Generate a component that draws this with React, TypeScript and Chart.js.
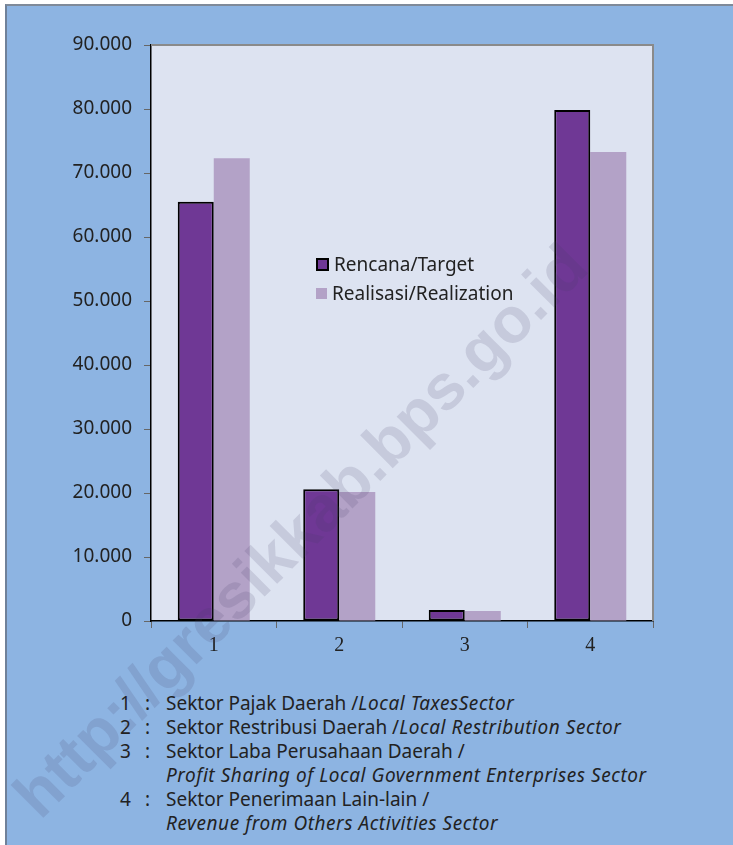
import React, { useEffect, useRef } from "react";
import { Chart, registerables } from "chart.js";

Chart.register(...registerables);

const categories = ["1", "2", "3", "4"];
const rencana = [65500, 20600, 1700, 79850];
const realisasi = [72300, 20150, 1550, 73300];
const seriesNames = ["Rencana/Target", "Realisasi/Realization"];
const seriesColors = ["#6F3895", "#B3A2C7"];
const yMax = 90000;
const yStep = 10000;

const noteNumbers = ["1", "2", "3", "", "4", ""];
const noteMain = [
  "Sektor Pajak Daerah /",
  "Sektor Restribusi Daerah /",
  "Sektor Laba Perusahaan Daerah /",
  "",
  "Sektor Penerimaan Lain-lain /",
  "",
];
const noteItalic = [
  "Local TaxesSector",
  "Local Restribution Sector",
  "",
  "Profit Sharing of Local Government Enterprises Sector",
  "",
  "Revenue from Others Activities Sector",
];

const watermark = "http://gresikkab.bps.go.id";

function fmt(v: number): string {
  if (v === 0) return "0";
  const k = Math.round(v / 1000);
  return `${k}.000`;
}

const plotFrame = {
  id: "plotFrame",
  beforeDraw(chart: any) {
    const { ctx, chartArea: a } = chart;
    ctx.save();
    ctx.fillStyle = "#DDE3F1";
    ctx.fillRect(a.left, a.top, a.right - a.left, a.bottom - a.top);
    ctx.restore();
  },
  afterDraw(chart: any) {
    const { ctx, chartArea: a } = chart;
    ctx.save();
    ctx.strokeStyle = "#8a8a8a";
    ctx.lineWidth = 2;
    ctx.beginPath();
    ctx.moveTo(a.left, a.top);
    ctx.lineTo(a.right, a.top);
    ctx.lineTo(a.right, a.bottom);
    ctx.stroke();
    ctx.restore();
  },
};

export default function App() {
  const ref = useRef<HTMLCanvasElement | null>(null);

  useEffect(() => {
    if (!ref.current) return;
    const chart = new Chart(ref.current, {
      type: "bar",
      data: {
        labels: categories,
        datasets: [
          {
            label: seriesNames[0],
            data: rencana,
            backgroundColor: seriesColors[0],
            borderColor: "#000000",
            borderWidth: 2,
            borderSkipped: false,
          },
          {
            label: seriesNames[1],
            data: realisasi,
            backgroundColor: seriesColors[1],
            borderWidth: 0,
          },
        ],
      },
      options: {
        animation: false,
        responsive: false,
        devicePixelRatio: 1,
        categoryPercentage: 0.574,
        barPercentage: 1,
        layout: { padding: { top: 45, right: 80, left: 0, bottom: 0 } },
        plugins: {
          legend: { display: false },
          tooltip: { enabled: false },
        },
        scales: {
          x: {
            grid: {
              offset: true,
              drawOnChartArea: false,
              drawTicks: true,
              tickLength: 7,
              color: "#666666",
            },
            border: { color: "#000000", width: 1.5 },
            ticks: {
              color: "#222222",
              font: { family: "'Liberation Serif', serif", size: 20 },
              padding: 6,
            },
            afterFit: (s: any) => {
              s.height = 39;
            },
          },
          y: {
            min: 0,
            max: yMax,
            grid: {
              drawOnChartArea: false,
              drawTicks: true,
              tickLength: 7,
              color: "#666666",
            },
            border: { color: "#000000", width: 1.5 },
            ticks: {
              stepSize: yStep,
              color: "#222222",
              font: { family: "'Noto Sans'", size: 19 },
              padding: 12,
              callback: (v: any) => fmt(Number(v)),
            },
            afterFit: (s: any) => {
              s.width = 151;
            },
          },
        },
      },
      plugins: [plotFrame],
    });
    return () => chart.destroy();
  }, []);

  const lineTops = [691, 715, 739, 763, 787, 811];

  return (
    <div
      style={{
        position: "absolute",
        left: 0,
        top: 0,
        width: 733,
        height: 845,
        background: "#ffffff",
        overflow: "hidden",
        fontFamily: "'Noto Sans', sans-serif",
        color: "#222222",
      }}
    >
      <div
        style={{
          position: "absolute",
          left: 5,
          top: 4,
          width: 740,
          height: 860,
          background: "#8DB4E2",
          borderLeft: "2px solid #6f8199",
          borderTop: "2px solid #7f8a99",
        }}
      />
      <canvas
        ref={ref}
        width={733}
        height={660}
        style={{ position: "absolute", left: 0, top: 0, width: 733, height: 660 }}
      />
      {seriesNames.map((n, i) => (
        <div
          key={n}
          style={{
            position: "absolute",
            left: 316,
            top: 252 + i * 29,
            height: 24,
            display: "flex",
            alignItems: "center",
            fontSize: 19,
            whiteSpace: "nowrap",
          }}
        >
          <span
            style={{
              display: "inline-block",
              width: i === 0 ? 9 : 11,
              height: i === 0 ? 9 : 11,
              background: seriesColors[i],
              border: i === 0 ? "2px solid #000" : "none",
              marginRight: 5,
            }}
          />
          {n}
        </div>
      ))}
      {lineTops.map((t, i) => (
        <div
          key={i}
          style={{
            position: "absolute",
            left: 0,
            top: t,
            height: 24,
            lineHeight: "24px",
            fontSize: 19,
            whiteSpace: "nowrap",
            width: 733,
          }}
        >
          {noteNumbers[i] && (
            <>
              <span style={{ position: "absolute", left: 120 }}>{noteNumbers[i]}</span>
              <span style={{ position: "absolute", left: 145 }}>:</span>
            </>
          )}
          <span style={{ position: "absolute", left: 166 }}>
            {noteMain[i]}
            <i style={{ letterSpacing: "0.55px" }}>{noteItalic[i]}</i>
          </span>
        </div>
      ))}
      <div
        style={{
          position: "absolute",
          left: 300,
          top: 530,
          transform: "translate(-50%, -50%) rotate(-45deg)",
          fontFamily: "'Liberation Sans', Arial, sans-serif",
          fontWeight: "bold",
          fontSize: 64,
          color: "rgba(70, 60, 100, 0.15)",
          whiteSpace: "nowrap",
          pointerEvents: "none",
        }}
      >
        {watermark}
      </div>
    </div>
  );
}
